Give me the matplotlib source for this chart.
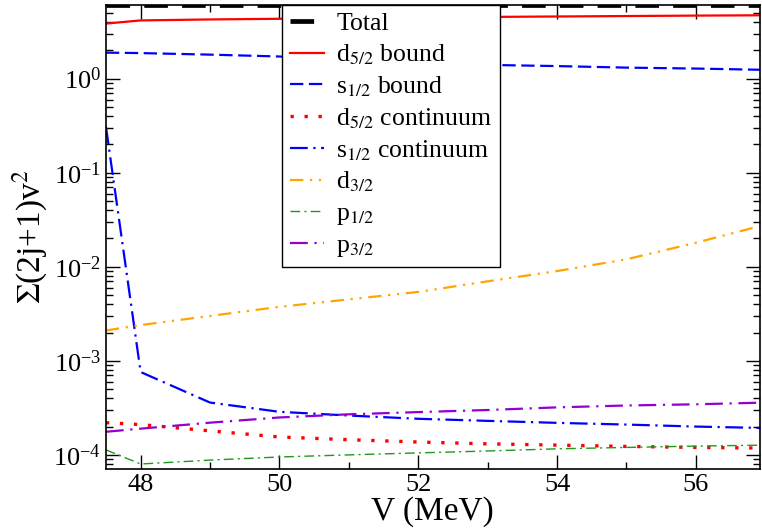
import matplotlib
matplotlib.use("Agg")
import matplotlib.pyplot as plt
from matplotlib.ticker import LogLocator, MultipleLocator, NullFormatter

plt.rcParams['font.family'] = ['Liberation Serif', 'DejaVu Serif']
plt.rcParams['mathtext.fontset'] = 'stix'

# potential depth (MeV)
V = [47.5, 48, 49, 50, 51, 52, 53, 54, 55, 56, 57]

# sum (2j+1) v^2 for each component
total = [6.0, 6.0, 6.0, 6.0, 6.0, 6.0, 6.0, 6.0, 6.0, 6.0, 6.0]
d52_bound = [3.85, 4.16, 4.26, 4.33, 4.40, 4.47, 4.53, 4.58, 4.63, 4.68, 4.72]
s12_bound = [1.89, 1.87, 1.80, 1.72, 1.60, 1.48, 1.40, 1.36, 1.31, 1.28, 1.24]
d52_cont = [2.2e-4, 2.1e-4, 1.8e-4, 1.55e-4, 1.45e-4, 1.37e-4, 1.31e-4, 1.27e-4, 1.23e-4, 1.2e-4, 1.18e-4]
s12_cont = [0.31, 7.6e-4, 3.6e-4, 2.87e-4, 2.62e-4, 2.42e-4, 2.3e-4, 2.19e-4, 2.1e-4, 2.0e-4, 1.93e-4]
d32 = [2.1e-3, 2.4e-3, 3.0e-3, 3.75e-3, 4.5e-3, 5.4e-3, 7.0e-3, 9.0e-3, 1.2e-2, 1.8e-2, 2.8e-2]
p12 = [1.13e-4, 8.0e-5, 8.8e-5, 9.5e-5, 1.0e-4, 1.05e-4, 1.1e-4, 1.16e-4, 1.2e-4, 1.24e-4, 1.27e-4]
p32 = [1.76e-4, 1.9e-4, 2.2e-4, 2.5e-4, 2.7e-4, 2.85e-4, 3.0e-4, 3.2e-4, 3.35e-4, 3.45e-4, 3.6e-4]

fig = plt.figure(figsize=(7.62, 5.31), dpi=100)
ax = fig.add_axes([0.139, 0.117, 0.858, 0.874])

ax.plot(V, total, color='black', lw=3.4, dashes=(5, 3), label='Total')
ax.plot(V, d52_bound, color='red', lw=1.6, label=r'd$_{5/2}$ bound')
ax.plot(V, s12_bound, color='blue', lw=1.6, dashes=(6, 2.5), label=r's$_{1/2}$ bound')
ax.plot(V, d52_cont, color='red', lw=2.4, dashes=(1, 3.2), label=r'd$_{5/2}$ continuum')
ax.plot(V, s12_cont, color='blue', lw=1.6, dashes=(8, 2.5, 1, 2.5), label=r's$_{1/2}$ continuum')
ax.plot(V, d32, color='orange', lw=1.6, dashes=(6, 3, 1, 3, 1, 3), label=r'd$_{3/2}$')
ax.plot(V, p12, color='#1c9a1c', lw=1.0, dashes=(7, 3, 1.5, 3), label=r'p$_{1/2}$')
ax.plot(V, p32, color='#9400d3', lw=1.6, dashes=(8, 3, 1, 3), label=r'p$_{3/2}$')

ax.set_yscale('log')
ax.set_xlim(47.5, 56.92)
ax.set_ylim(7.1e-5, 6.1)

ax.xaxis.set_major_locator(MultipleLocator(2))
ax.xaxis.set_minor_locator(MultipleLocator(1))
ax.yaxis.set_major_locator(LogLocator(base=10, numticks=10))
ax.yaxis.set_minor_locator(LogLocator(base=10, subs=range(2, 10), numticks=10))
ax.yaxis.set_minor_formatter(NullFormatter())

ax.tick_params(which='both', direction='in', top=True, right=True, labelsize=19, width=1.0)
ax.tick_params(which='major', length=10)
ax.tick_params(which='minor', length=5)
for s in ax.spines.values():
    s.set_linewidth(1.2)

ax.set_xlabel('V (MeV)', fontsize=24, labelpad=0)
ax.set_ylabel(r'$\Sigma$(2j+1)v$^2$', fontsize=24, labelpad=2)

leg = ax.legend(loc='upper left', bbox_to_anchor=(0.27, 1.0), borderaxespad=0,
                fontsize=18.5, fancybox=False, framealpha=1, edgecolor='black',
                labelspacing=0.28, handlelength=1.3, handletextpad=0.5,
                borderpad=0.3)
leg.get_frame().set_linewidth(1.0)

fig.savefig('out.png', dpi=100)
